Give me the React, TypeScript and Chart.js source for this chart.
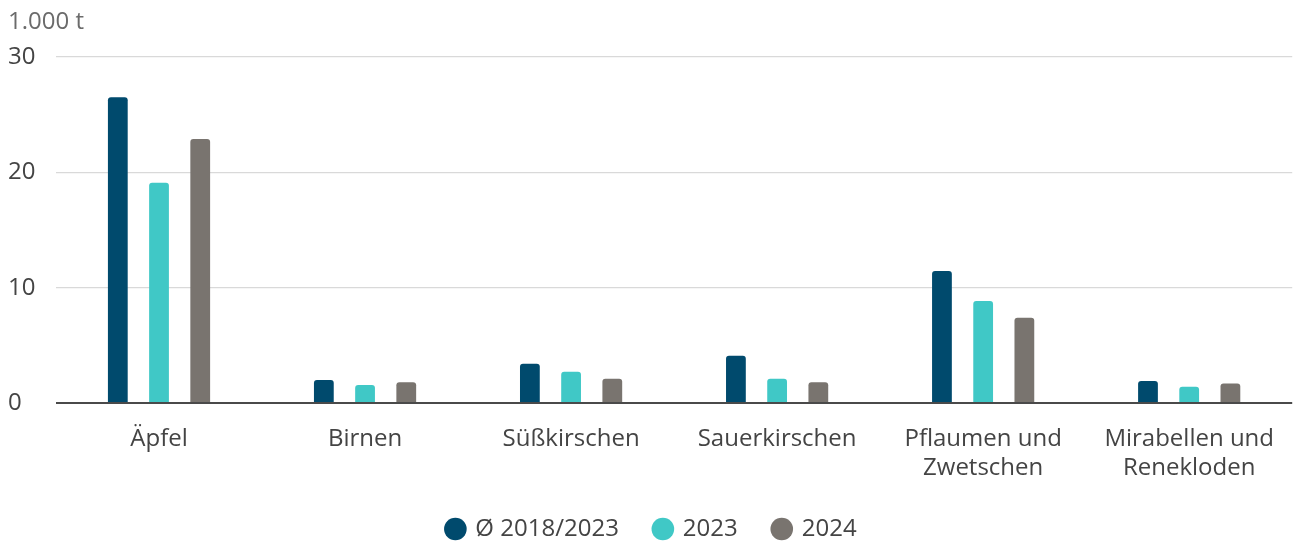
import React, { useEffect, useRef } from "react";
import { Chart, registerables } from "chart.js";

Chart.register(...registerables);

const categories: (string | string[])[] = [
  "Äpfel",
  "Birnen",
  "Süßkirschen",
  "Sauerkirschen",
  ["Pflaumen und", "Zwetschen"],
  ["Mirabellen und", "Renekloden"],
];
const seriesNames = ["Ø 2018/2023", "2023", "2024"];
const avg2018_2023 = [26.5, 2.0, 3.4, 4.1, 11.45, 1.9];
const values2023 = [19.1, 1.55, 2.7, 2.1, 8.85, 1.4];
const values2024 = [22.9, 1.8, 2.1, 1.8, 7.4, 1.7];
const yTicks = [0, 10, 20, 30];
const unitLabel = "1.000 t";

const colors = ["#004a6d", "#40c8c6", "#79746f"];
const FONT = "'Open Sans', sans-serif";

export default function App() {
  const ref = useRef<HTMLCanvasElement | null>(null);
  useEffect(() => {
    if (!ref.current) return;
    const unitPlugin = {
      id: "unitLabel",
      afterDraw(chart: any) {
        const c = chart.ctx;
        c.save();
        c.font = `24px ${FONT}`;
        c.fillStyle = "#6b6b6b";
        c.textAlign = "left";
        c.textBaseline = "middle";
        c.fillText(unitLabel, 8, 22);
        c.restore();
      },
    };
    const chart = new Chart(ref.current, {
      type: "bar",
      data: {
        labels: categories,
        datasets: [avg2018_2023, values2023, values2024].map((d, i) => ({
          label: seriesNames[i],
          data: d,
          backgroundColor: colors[i],
          borderRadius: 3,
          borderSkipped: "start",
          categoryPercentage: 0.6,
          barPercentage: 0.48,
        })),
      },
      options: {
        responsive: false,
        animation: false,
        layout: { padding: { top: 57, left: 8, right: 0, bottom: 0 } },
        plugins: {
          title: { display: false },
          tooltip: { enabled: false },
          legend: {
            position: "bottom",
            labels: {
              usePointStyle: true,
              pointStyle: "circle",
              boxWidth: 16,
              boxHeight: 16,
              padding: 36,
              color: "#444",
              font: { family: FONT, size: 24 },
            },
          },
        },
        scales: {
          x: {
            grid: { display: false, drawTicks: false },
            border: { display: false },
            ticks: {
              color: "#444",
              font: { family: FONT, size: 24 },
              padding: 22,
              maxRotation: 0,
              autoSkip: false,
            },
            afterFit: (s: any) => {
              s.height = 78;
            },
          },
          y: {
            min: 0,
            max: 30,
            afterBuildTicks: (s: any) => {
              s.ticks = yTicks.map((v) => ({ value: v }));
            },
            grid: {
              drawTicks: false,
              color: (ctx: any) => (ctx.tick && ctx.tick.value === 0 ? "#4a4a4a" : "#d9d9d9"),
              lineWidth: (ctx: any) => (ctx.tick && ctx.tick.value === 0 ? 2 : 1.2),
            },
            border: { display: false },
            ticks: {
              color: "#444",
              font: { family: FONT, size: 24 },
              crossAlign: "far",
              padding: 0,
            },
            afterFit: (s: any) => {
              s.width = 48;
            },
          },
        },
      },
      plugins: [unitPlugin],
    });
    return () => chart.destroy();
  }, []);
  return (
    <div style={{ position: "fixed", left: 0, top: 0, width: 1296, height: 551, background: "#fff" }}>
      <canvas ref={ref} width={1296} height={551} style={{ width: 1296, height: 551 }} />
    </div>
  );
}
